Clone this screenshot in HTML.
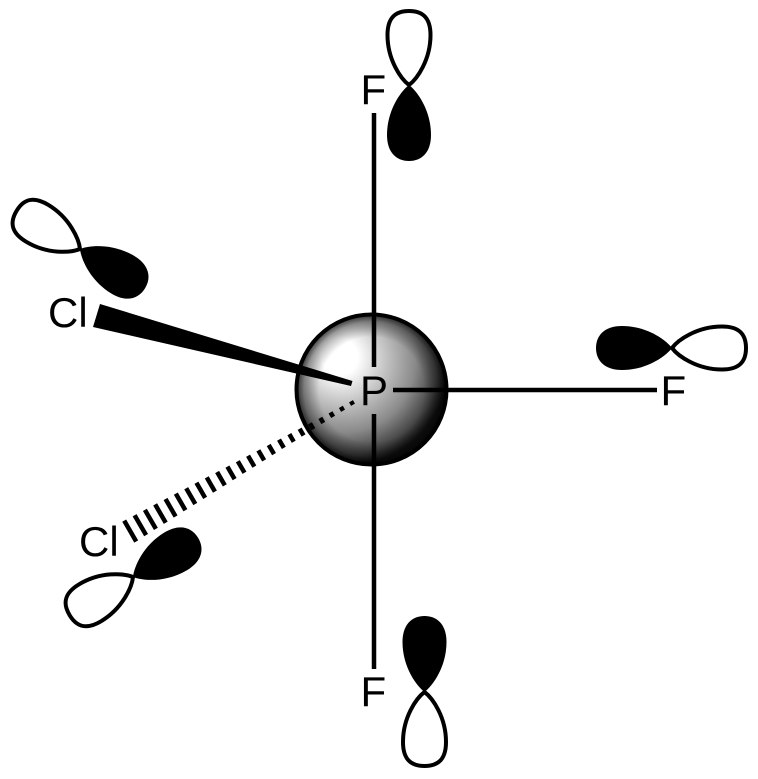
<!DOCTYPE html>
<html>
<head>
<meta charset="utf-8">
<style>
html,body{margin:0;padding:0;background:#fff;width:758px;height:779px;overflow:hidden}
svg{display:block}
text{font-family:"Liberation Sans",Arial,sans-serif;font-size:42px;fill:#000}
</style>
</head>
<body>
<svg width="758" height="779" viewBox="0 0 758 779" xmlns="http://www.w3.org/2000/svg">
<defs>
<radialGradient id="g" gradientUnits="userSpaceOnUse" cx="348" cy="365" r="100" fx="338" fy="355">
<stop offset="0" stop-color="#fff"/>
<stop offset=".18" stop-color="#fff"/>
<stop offset=".45" stop-color="#c0c0c0"/>
<stop offset=".7" stop-color="#8a8a8a"/>
<stop offset=".9" stop-color="#444"/>
<stop offset="1" stop-color="#111"/>
</radialGradient>
<radialGradient id="r" gradientUnits="userSpaceOnUse" cx="371.5" cy="389.5" r="75">
<stop offset=".7" stop-color="#000" stop-opacity="0"/>
<stop offset=".9" stop-color="#000" stop-opacity=".35"/>
<stop offset="1" stop-color="#000" stop-opacity=".75"/>
</radialGradient>
<path id="b" d="M0,0C8,6 22,25 22,50C22,67 13,76 0,76C-13,76 -22,67 -22,50C-22,25 -8,6 0,0Z" fill="#000"/>
<path id="w" d="M0,0C8,6 21.5,25 21.5,50C21.5,66 15,74 0,74C-15,74 -21.5,66 -21.5,50C-21.5,25 -8,6 0,0Z" fill="#fff" stroke="#000" stroke-width="4"/>
</defs>

<circle cx="371.5" cy="389.5" r="75" fill="url(#g)"/>
<circle cx="371.5" cy="389.5" r="75" fill="url(#r)" stroke="#000" stroke-width="4"/>

<path d="M374,113V367M374,414V669M393,390H657" stroke="#000" stroke-width="4.5" fill="none"/>

<polygon points="100,304 93,327 351,386 352.5,381" fill="#000"/>

<g transform="translate(352 403) rotate(150)">
<path stroke="#000" stroke-width="4.5" fill="none" d="M0,-2V2M11.6,-2.2V2.2M23.3,-2.6V2.6M34.9,-3V3M46.6,-3.4V3.4M58.2,-3.9V3.9M69.8,-4.4V4.4M81.5,-4.8V4.8M93.1,-5.3V5.3M104.8,-5.8V5.8M116.4,-6.3V6.3M128,-6.7V6.7M139.7,-7.2V7.2M151.3,-7.7V7.7M163,-8.2V8.2M174.6,-8.7V8.7M186.2,-9.1V9.1M197.9,-9.6V9.6M209.5,-10.1V10.1M221.2,-10.6V10.6M232.8,-11V11M244.4,-11.5V11.5M256.1,-12V12"/>
</g>

<!-- top orbital -->
<g transform="translate(409 85)"><use href="#w" transform="rotate(180)"/><use href="#b"/></g>
<!-- bottom orbital -->
<g transform="translate(424.5 692)"><use href="#w"/><use href="#b" transform="rotate(180)"/></g>
<!-- right orbital -->
<g transform="translate(672 348)"><use href="#w" transform="rotate(-90)"/><use href="#b" transform="rotate(90)"/></g>
<!-- upper-left orbital -->
<g transform="translate(80 249)"><use href="#w" transform="rotate(121)"/><use href="#b" transform="rotate(-59)"/></g>
<!-- lower-left orbital -->
<g transform="translate(133 577)"><use href="#w" transform="rotate(59)"/><use href="#b" transform="rotate(-121)"/></g>

<text x="360.5" y="104">F</text>
<text x="360.5" y="706">F</text>
<text x="660.5" y="405">F</text>
<text x="360" y="405">P</text>
<text x="48" y="327">Cl</text>
<text x="79" y="556">Cl</text>
</svg>
</body>
</html>
